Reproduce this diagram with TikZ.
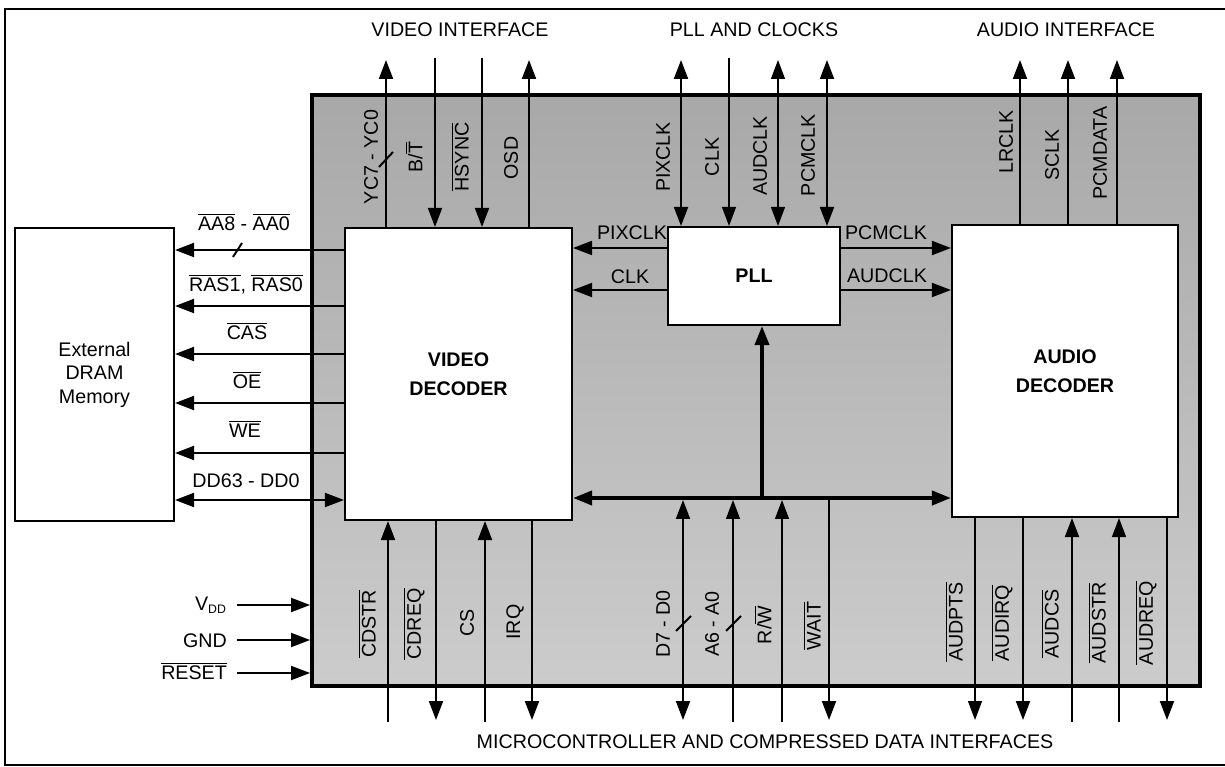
\documentclass[tikz,border=0pt]{standalone}
\usepackage{fontspec}
\setmainfont{Liberation Sans}
\usetikzlibrary{arrows.meta,calc}
\newcommand{\ovl}[1]{$\overline{\hbox{#1}}$}
\newcommand{\sz}{\fontsize{11.2}{13.4}\selectfont}
\begin{document}
\begin{tikzpicture}[x=0.02cm,y=-0.02cm,
  >={Triangle[length=0.38cm,width=0.28cm]},
  font=\sz,
  box/.style={draw, fill=white, line width=1.2pt, inner sep=0pt, align=center, font=\sz\bfseries},
  chipbox/.style={draw, line width=2.3pt, inner sep=0pt, top color=black!34, bottom color=black!20},
  sig/.style={line width=1.1pt},
  thinsig/.style={line width=0.7pt},
  bus/.style={line width=2.2pt},
  lab/.style={inner sep=1pt},
  vlab/.style={rotate=90, inner sep=1pt}]
\useasboundingbox (0,0) rectangle (1225,767);
% outer frame
\draw[line width=1pt] (1225,9) -- (5,9) -- (5,765) -- (1225,765);
% chip
\node[chipbox, minimum width=17.76cm, minimum height=11.82cm] (chip) at (756,390.5) {};
% blocks
\node[box, minimum width=4.54cm, minimum height=5.84cm] (vd) at (458.5,374) {VIDEO\\[3pt]DECODER};
\node[box, minimum width=3.44cm, minimum height=1.96cm] (pll) at (754,276) {PLL};
\node[box, minimum width=4.52cm, minimum height=5.84cm] (ad) at (1065,371) {AUDIO\\[3pt]DECODER};
\node[box, font=\sz, minimum width=3.18cm, minimum height=5.86cm] (dram) at (94.5,374.5) {External\\DRAM\\Memory};
% group titles
\node[lab] (tvi) at (460,30) {VIDEO INTERFACE};
\node[lab] (tpc) at (754,30) {PLL AND CLOCKS};
\node[lab] (tai) at (1066,30) {AUDIO INTERFACE};
\node[lab] (tmc) at (765,742) {MICROCONTROLLER AND COMPRESSED DATA INTERFACES};
% ---------- left: DRAM interface
\draw[sig,->] (vd.west |- 0,250) -- (dram.east |- 0,250);
\draw[sig] (233,257) -- (242,243);
\draw[sig,->] (vd.west |- 0,306) -- (dram.east |- 0,306);
\draw[sig,->] (vd.west |- 0,354) -- (dram.east |- 0,354);
\draw[sig,->] (vd.west |- 0,403) -- (dram.east |- 0,403);
\draw[sig,->] (vd.west |- 0,453) -- (dram.east |- 0,453);
\draw[sig,<->] (vd.west |- 0,500) -- (dram.east |- 0,500);
\node[lab] (laa) at (244,222) {\ovl{AA8} - \ovl{AA0}};
\node[lab] (lras) at (246,284) {\ovl{RAS1}, \ovl{RAS0}};
\node[lab] (lcas) at (247,331) {\ovl{CAS}};
\node[lab] (loe) at (247,380) {\ovl{OE}};
\node[lab] (lwe) at (245,429) {\ovl{WE}};
\node[lab] (ldd) at (246,481) {DD63 - DD0};
% ---------- power
\coordinate (pvdd) at (237,605);
\coordinate (pgnd) at (237,640);
\coordinate (prst) at (237,673);
\draw[sig,->] (pvdd) -- (chip.west |- pvdd);
\draw[sig,->] (pgnd) -- (chip.west |- pgnd);
\draw[sig,->] (prst) -- (chip.west |- prst);
\node[lab, anchor=east] (lvdd) at (229,605) {V\textsubscript{\scriptsize DD}};
\node[lab, anchor=east] (lgnd) at (229,641) {GND};
\node[lab, anchor=east] (lrst) at (229,671) {\ovl{RESET}};
% ---------- video interface
\coordinate (cyc) at (386,60);
\coordinate (cbt) at (435,58);
\coordinate (chs) at (482,58);
\coordinate (cosd) at (529,60);
\draw[sig,->] (vd.north -| cyc) -- (cyc);
\draw[sig] (379,167) -- (393,152);
\draw[sig,->] (cbt) -- (vd.north -| cbt);
\draw[sig,->] (chs) -- (vd.north -| chs);
\draw[sig,->] (vd.north -| cosd) -- (cosd);
\node[vlab] (lyc) at (371,157) {YC7 - YC0};
\node[vlab] (lbt) at (414,157) {B/\ovl{T}};
\node[vlab] (lhs) at (460,157) {\ovl{HSYNC}};
\node[vlab] (losd) at (511,158) {OSD};
% ---------- PLL and clocks
\coordinate (cpix) at (681,60);
\coordinate (cclk) at (729,58);
\coordinate (caud) at (778,60);
\coordinate (cpcm) at (827,60);
\draw[sig,<->] (cpix) -- (pll.north -| cpix);
\draw[thinsig,->] (cclk) -- (pll.north -| cclk);
\draw[thinsig,<->] (caud) -- (pll.north -| caud);
\draw[sig,<->] (cpcm) -- (pll.north -| cpcm);
\node[vlab] (lpix) at (663,157) {PIXCLK};
\node[vlab] (lclk) at (712,157) {CLK};
\node[vlab] (laud) at (760,156) {AUDCLK};
\node[vlab] (lpcm) at (808,155) {PCMCLK};
% PLL to decoders
\draw[sig,->] (pll.west |- 0,248) -- (vd.east |- 0,248);
\draw[sig,->] (pll.west |- 0,290) -- (vd.east |- 0,290);
\draw[sig,->] (pll.east |- 0,248) -- (ad.west |- 0,248);
\draw[sig,->] (pll.east |- 0,290) -- (ad.west |- 0,290);
\node[lab] (lpix2) at (632,233) {PIXCLK};
\node[lab] (lclk2) at (630,277) {CLK};
\node[lab] (lpcm2) at (886,233) {PCMCLK};
\node[lab] (laud2) at (887,276) {AUDCLK};
% ---------- audio interface
\coordinate (clr) at (1020,60);
\coordinate (csc) at (1068,60);
\coordinate (cpd) at (1117,60);
\draw[sig,->] (ad.north -| clr) -- (clr);
\draw[sig,->] (ad.north -| csc) -- (csc);
\draw[sig,->] (ad.north -| cpd) -- (cpd);
\node[vlab] (llr) at (1006,142) {LRCLK};
\node[vlab] (lsc) at (1052,155) {SCLK};
\node[vlab] (lpd) at (1100,153) {PCMDATA};
% ---------- internal bus
\draw[bus,<->] (vd.east |- 0,498) -- (ad.west |- 0,498);
\coordinate (bj) at (762,498);
\draw[bus,->] (bj) -- (pll.south -| bj);
\coordinate (busbot) at (700,500);
% ---------- microcontroller / compressed data
\coordinate (bcdstr) at (388,722);
\coordinate (bcdreq) at (436,720);
\coordinate (bcs) at (485,722);
\coordinate (birq) at (532,720);
\coordinate (bd) at (683,720);
\coordinate (ba) at (733,722);
\coordinate (brw) at (782,722);
\coordinate (bwait) at (829,720);
\coordinate (bpts) at (975,720);
\coordinate (birq2) at (1023,720);
\coordinate (bacs) at (1072,722);
\coordinate (bastr) at (1119,722);
\coordinate (bareq) at (1167,720);
\draw[sig,->] (bcdstr) -- (vd.south -| bcdstr);
\draw[sig,->] (vd.south -| bcdreq) -- (bcdreq);
\draw[sig,->] (bcs) -- (vd.south -| bcs);
\draw[sig,->] (vd.south -| birq) -- (birq);
\draw[sig,<->] (bd) -- (bd |- busbot);
\draw[thinsig,->] (ba) -- (ba |- busbot);
\draw[thinsig,->] (brw) -- (brw |- busbot);
\draw[sig,->] (bwait |- bj) -- (bwait);
\draw[sig] (676,631) -- (691,616);
\draw[sig] (726,631) -- (741,616);
\draw[thinsig,->] (ad.south -| bpts) -- (bpts);
\draw[sig,->] (ad.south -| birq2) -- (birq2);
\draw[sig,->] (bacs) -- (ad.south -| bacs);
\draw[thinsig,->] (bastr) -- (ad.south -| bastr);
\draw[sig,->] (ad.south -| bareq) -- (bareq);
\node[vlab] (lcdstr) at (367,624) {\ovl{CDSTR}};
\node[vlab] (lcdreq) at (414,624) {\ovl{CDREQ}};
\node[vlab] (lcs) at (467,623) {CS};
\node[vlab] (lirq) at (515,622) {IRQ};
\node[vlab] (ld) at (663,624) {D7 - D0};
\node[vlab] (la) at (712,624) {A6 - A0};
\node[vlab] (lrw) at (763,625) {R/\ovl{W}};
\node[vlab] (lwait) at (812,626) {\ovl{WAIT}};
\node[vlab] (lpts) at (954,622) {\ovl{AUDPTS}};
\node[vlab] (lairq) at (1002,623) {\ovl{AUDIRQ}};
\node[vlab] (lacs) at (1050,624) {\ovl{AUDCS}};
\node[vlab] (lastr) at (1097,623) {\ovl{AUDSTR}};
\node[vlab] (lareq) at (1146,623) {\ovl{AUDREQ}};
\end{tikzpicture}
\end{document}
